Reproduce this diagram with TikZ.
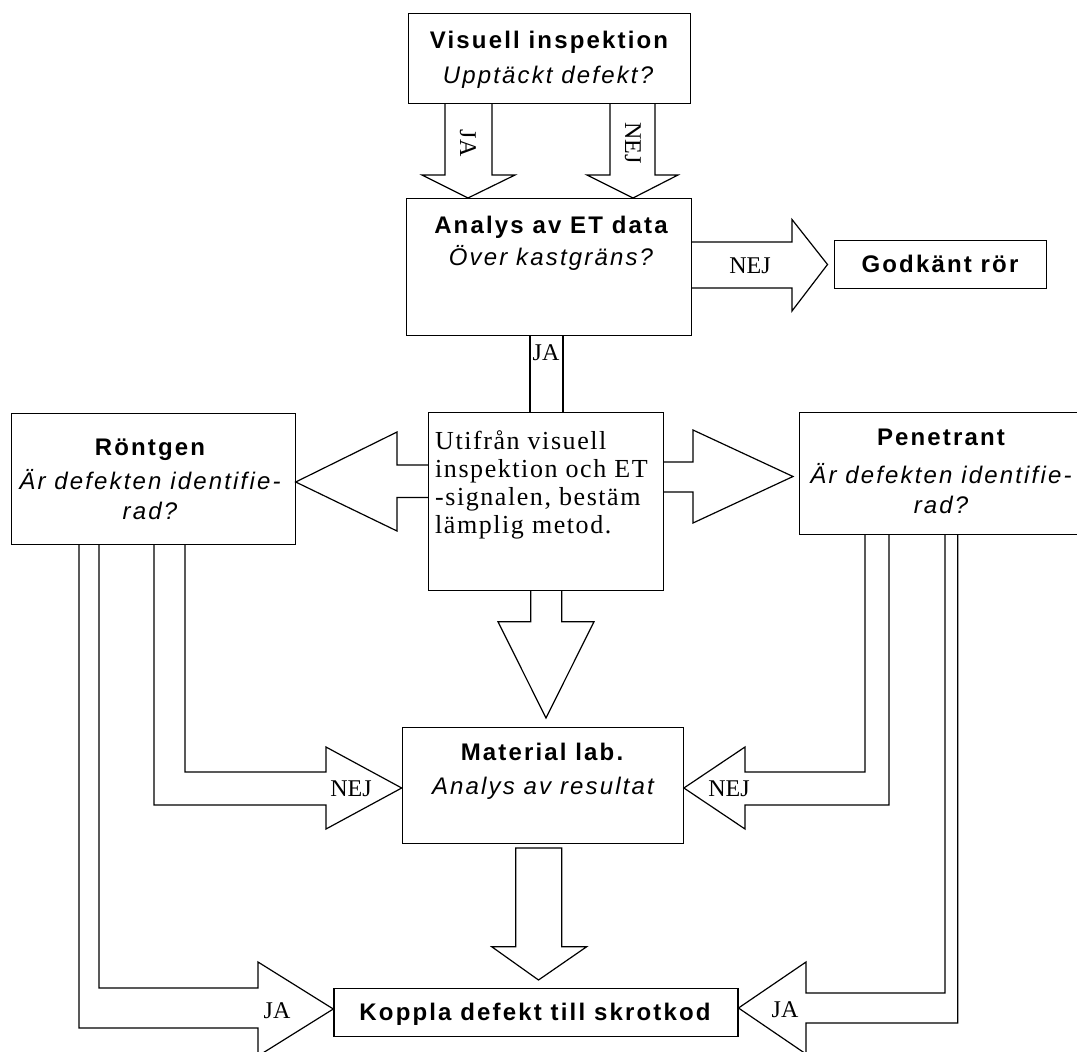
\documentclass[tikz,border=0pt]{standalone}
\usepackage{fontspec}
\setmainfont{Liberation Serif}
\newfontfamily\sansfam[LetterSpace=9]{Liberation Sans}
\newfontfamily\seriffam[LetterSpace=6]{Liberation Serif}
\begin{document}
\begin{tikzpicture}[x=1pt,y=-1pt]
\tikzset{
  box/.style={draw, line width=1.2pt, inner sep=0pt, anchor=north west},
  blk/.style={draw, line width=1.2pt, line join=miter},
  hd/.style={inner sep=0pt, text height=17pt, text depth=0pt, font={\sansfam\bfseries\fontsize{24}{28}\selectfont}},
  sub/.style={inner sep=0pt, text height=17pt, text depth=0pt, font={\sansfam\itshape\fontsize{24}{28}\selectfont}},
  lab/.style={inner sep=0pt, text height=16pt, text depth=0pt, font={\fontsize{24}{28}\selectfont}},
  body/.style={inner sep=0pt, anchor=base west, font={\seriffam\fontsize{26}{28}\selectfont}}
}
\useasboundingbox (0,0) rectangle (1077,1052);
\fill[white] (0,0) rectangle (1077,1052);
\clip (0,0) rectangle (1077,1052);

% boxes
\node[box, minimum width=282pt, minimum height=90pt] (vis) at (408,13) {};
\node[box, minimum width=285pt, minimum height=137pt] (ana) at (406,198) {};
\node[box, minimum width=212pt, minimum height=48pt] (god) at (834,240) {};
\node[box, minimum width=235pt, minimum height=178pt] (utf) at (428,412) {};
\node[box, minimum width=284pt, minimum height=131pt] (ron) at (10.5,413) {};
\node[box, minimum width=284pt, minimum height=122pt] (pen) at (799,412) {};
\node[box, minimum width=281pt, minimum height=116pt] (mat) at (401.7,727) {};
\node[box, minimum width=404pt, minimum height=48pt] (kop) at (333.3,987.5) {};

% texts
\node[hd] (visT) at (549,40) {Visuell inspektion};
\node[sub] (visS) at (548,75) {Upptäckt defekt?};
\node[hd] (anaT) at (551,225) {Analys av ET data};
\node[sub] (anaS) at (551,257) {Över kastgräns?};
\node[hd] (godT) at (940,264) {Godkänt rör};
\node[body] (utf1) at (435,449) {Utifrån visuell};
\node[body] (utf2) at (435,477) {inspektion och ET};
\node[body] (utf3) at (435,505) {-signalen, bestäm};
\node[body] (utf4) at (435,533) {lämplig metod.};
\node[hd] (ronT) at (150,447) {Röntgen};
\node[sub] (ronS1) at (150,481) {Är defekten identifie-};
\node[sub] (ronS2) at (150,511) {rad?};
\node[hd] (penT) at (941,437) {Penetrant};
\node[sub] (penS1) at (941,475) {Är defekten identifie-};
\node[sub] (penS2) at (941,505) {rad?};
\node[hd] (matT) at (542,752) {Material lab.};
\node[sub] (matS) at (543,786) {Analys av resultat};
\node[hd] (kopT) at (535,1012) {Koppla defekt till skrotkod};

% block arrows
% vis -> ana JA
\draw[blk] (445,0 |- vis.south) -- (445,175) -- (422,175) -- (468,0 |- ana.north) -- (515,175) -- (492,175) -- (492,0 |- vis.south);
% vis -> ana NEJ
\draw[blk] (610,0 |- vis.south) -- (610,175) -- (587,175) -- (633,0 |- ana.north) -- (678,175) -- (655,175) -- (655,0 |- vis.south);
% ana -> god NEJ
\draw[blk] (ana.east |- 0,242) -- (792,242) -- (792,219.5) -- (827.5,264.5) -- (792,311) -- (792,288) -- (ana.east |- 0,288);
% ana -> utf JA
\draw[blk] (530,0 |- ana.south) -- (530,0 |- utf.north);
\draw[blk] (563,0 |- ana.south) -- (563,0 |- utf.north);
% utf -> ron
\draw[blk] (utf.west |- 0,465) -- (397,465) -- (397,432) -- (ron.east |- 0,482) -- (397,531) -- (397,497.5) -- (utf.west |- 0,497.5);
% utf -> pen
\draw[blk] (utf.east |- 0,462) -- (693,462) -- (693,430) -- (793,476.5) -- (693,523) -- (693,492) -- (utf.east |- 0,492);
% utf -> mat
\draw[blk] (530.7,0 |- utf.south) -- (530.7,621.7) -- (498,621.7) -- (546,718) -- (594,621.7) -- (561.7,621.7) -- (561.7,0 |- utf.south);
% ron -> mat NEJ
\draw[blk] (185,0 |- ron.south) -- (185,772) -- (326,772) -- (326,747) -- (mat.west |- 0,788) -- (326,829) -- (326,805) -- (154,805) -- (154,0 |- ron.south);
% pen -> mat NEJ
\draw[blk] (865,0 |- pen.south) -- (865,772) -- (745,772) -- (745,747) -- (mat.east |- 0,788) -- (745,829) -- (745,805) -- (889,805) -- (889,0 |- pen.south);
% ron -> kop JA
\draw[blk] (99,0 |- ron.south) -- (99,988) -- (258,988) -- (258,962) -- (kop.west |- 0,1009) -- (258,1056) -- (258,1028) -- (79,1028) -- (79,0 |- ron.south);
% pen -> kop JA
\draw[blk] (945,0 |- pen.south) -- (945,993) -- (806,993) -- (806,962) -- (kop.east |- 0,1008) -- (806,1054) -- (806,1023) -- (957.7,1023) -- (957.7,0 |- pen.south);
% mat -> kop
\draw[blk] (515.7,848) -- (561.7,848) -- (561.7,946.7) -- (586.7,946.7) -- (538.5,980) -- (491.7,946.7) -- (515.7,946.7) -- cycle;

% labels
\node[lab, rotate=-90] (l1) at (468,143) {JA};
\node[lab, rotate=-90] (l2) at (633,143) {NEJ};
\node[lab] (l3) at (750,265) {NEJ};
\node[lab] (l4) at (546,352) {JA};
\node[lab] (l5) at (351,788) {NEJ};
\node[lab] (l6) at (729,788) {NEJ};
\node[lab] (l7) at (277,1010) {JA};
\node[lab] (l8) at (785,1009) {JA};
\end{tikzpicture}
\end{document}
